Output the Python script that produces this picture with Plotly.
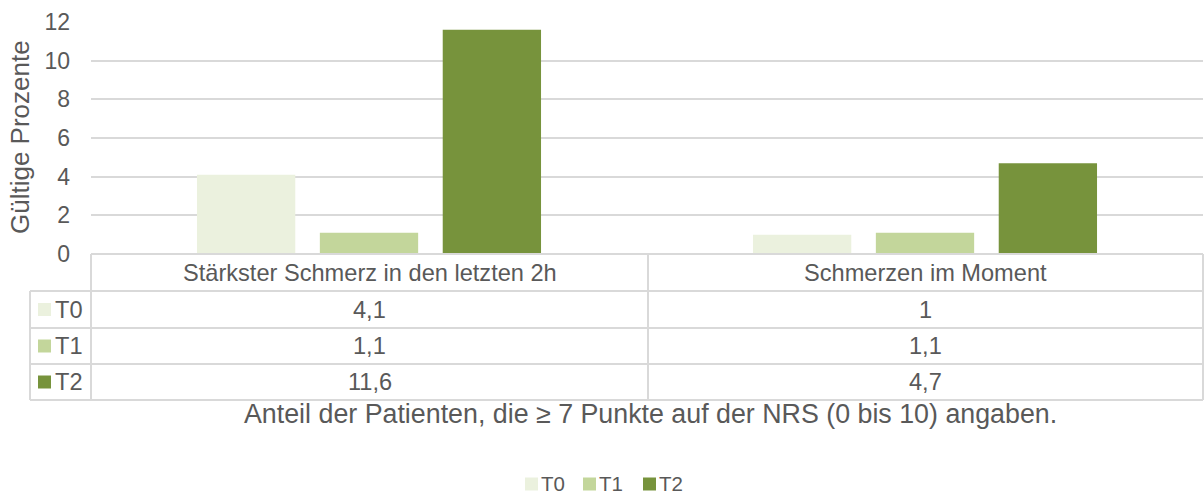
import plotly.graph_objects as go

categories = ["Stärkster Schmerz in den letzten 2h", "Schmerzen im Moment"]
series_names = ["T0", "T1", "T2"]
t0_values = [4.1, 1.0]
t1_values = [1.1, 1.1]
t2_values = [11.6, 4.7]
series_values = [t0_values, t1_values, t2_values]
colors = ["#EBF1DE", "#C3D69B", "#77933C"]
y_ticks = [0, 2, 4, 6, 8, 10, 12]
x_title = "Anteil der Patienten, die ≥ 7 Punkte auf der NRS (0 bis 10) angaben."
y_title = "Gültige Prozente"

W, H = 1204, 495
L, R, T, B = 91, 1, 22, 241
PW = W - L - R
PH = H - T - B
TXT = "#595959"
GRID = "#D9D9D9"
FONT = "Liberation Sans, Arial, sans-serif"
TABLE_FS = 23.6
LEGEND_FS = 20.5


def px_x(px):
    return (px - L) / PW


def px_y(py):
    return (H - B - py) / PH


fig = go.Figure()
for name, vals, col in zip(series_names, series_values, colors):
    fig.add_trace(go.Bar(name=name, x=categories, y=vals, marker=dict(color=col, line=dict(width=0))))

fig.update_layout(
    width=W, height=H,
    margin=dict(l=L, r=R, t=T, b=B, autoexpand=False),
    paper_bgcolor="white", plot_bgcolor="white",
    barmode="group", bargap=0.337, bargroupgap=0.2,
    font=dict(family=FONT, size=18, color=TXT),
    showlegend=False,
    xaxis=dict(showticklabels=False, showgrid=False, zeroline=False, showline=False),
    yaxis=dict(range=[0, 12], tickvals=y_ticks, showgrid=True, gridcolor=GRID, gridwidth=1.5,
               zeroline=False, showline=False, ticklabelstandoff=20,
               tickfont=dict(size=23, color=TXT)),
)

shapes = []
line = dict(color=GRID, width=2)
row_tops = [254, 291, 328, 364, 400]
x_left_legend = 30
x_mid = 648
x_right = 1203
shapes.append(dict(type="line", xref="paper", yref="paper", x0=px_x(L), x1=px_x(x_right), y0=px_y(254), y1=px_y(254), line=line))
for yy in row_tops[1:]:
    shapes.append(dict(type="line", xref="paper", yref="paper", x0=px_x(x_left_legend), x1=px_x(x_right), y0=px_y(yy), y1=px_y(yy), line=line))
shapes.append(dict(type="line", xref="paper", yref="paper", x0=px_x(L), x1=px_x(L), y0=px_y(254), y1=px_y(400), line=line))
shapes.append(dict(type="line", xref="paper", yref="paper", x0=px_x(x_left_legend), x1=px_x(x_left_legend), y0=px_y(291), y1=px_y(400), line=line))
shapes.append(dict(type="line", xref="paper", yref="paper", x0=px_x(x_mid), x1=px_x(x_mid), y0=px_y(254), y1=px_y(400), line=line))
shapes.append(dict(type="line", xref="paper", yref="paper", x0=px_x(x_right), x1=px_x(x_right), y0=px_y(254), y1=px_y(400), line=line))

annotations = []
col_centers = [(L + x_mid) / 2, (x_mid + x_right) / 2]
for cat, cx in zip(categories, col_centers):
    annotations.append(dict(text=cat, x=px_x(cx), y=px_y((254 + 291) / 2), xref="paper", yref="paper",
                            showarrow=False, xanchor="center", yanchor="middle", font=dict(size=TABLE_FS, color=TXT)))


def fmt(v):
    return f"{v:g}".replace(".", ",")


for i, (name, vals, col) in enumerate(zip(series_names, series_values, colors)):
    yc = (row_tops[i + 1] + row_tops[i + 2]) / 2
    shapes.append(dict(type="rect", xref="paper", yref="paper", x0=px_x(38), x1=px_x(51),
                       y0=px_y(yc - 6.5), y1=px_y(yc + 6.5), fillcolor=col, line=dict(width=0)))
    annotations.append(dict(text=name, x=px_x(53), y=px_y(yc), xref="paper", yref="paper", showarrow=False,
                            xanchor="left", yanchor="middle", font=dict(size=TABLE_FS, color=TXT)))
    for v, cx in zip(vals, col_centers):
        annotations.append(dict(text=fmt(v), x=px_x(cx), y=px_y(yc), xref="paper", yref="paper", showarrow=False,
                                xanchor="center", yanchor="middle", font=dict(size=TABLE_FS, color=TXT)))

# custom legend
legend_x = [525, 583, 643]
LEG_Y = 483
for name, col, lx in zip(series_names, colors, legend_x):
    shapes.append(dict(type="rect", xref="paper", yref="paper", x0=px_x(lx), x1=px_x(lx + 13),
                       y0=px_y(LEG_Y + 1 - 6.5), y1=px_y(LEG_Y + 1 + 6.5), fillcolor=col, line=dict(width=0)))
    annotations.append(dict(text=name, x=px_x(lx + 14), y=px_y(LEG_Y), xref="paper", yref="paper", showarrow=False,
                            xanchor="left", yanchor="middle", font=dict(size=LEGEND_FS, color=TXT)))

annotations.append(dict(text=x_title, x=px_x(650), y=px_y(414), xref="paper", yref="paper", showarrow=False,
                        xanchor="center", yanchor="middle", font=dict(size=26.8, color=TXT)))
annotations.append(dict(text=y_title, x=px_x(20), y=px_y(137), xref="paper", yref="paper", showarrow=False,
                        xanchor="center", yanchor="middle", textangle=-90, font=dict(size=26, color=TXT)))

fig.update_layout(shapes=shapes, annotations=annotations)
fig.write_html("out.html", config={"displayModeBar": False},
               post_script="document.body.style.margin='0';document.body.style.overflow='hidden';")
